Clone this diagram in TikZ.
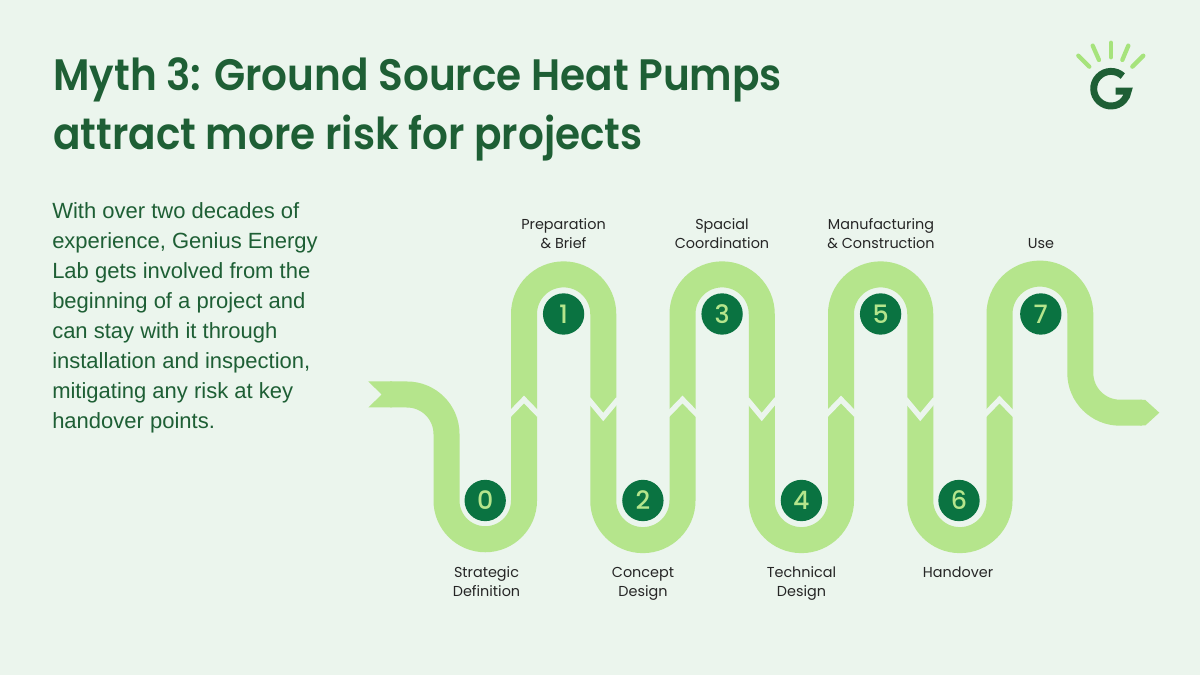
\documentclass[tikz,border=0pt]{standalone}
\usepackage{fontspec}
\setmainfont{Liberation Sans}
\newfontfamily\headfont{Poppins}
\newfontfamily\titlefont[FakeStretch=0.922]{Poppins SemiBold}
\newfontfamily\numfont{Poppins Medium}
\definecolor{pagebg}{HTML}{EBF5ED}
\definecolor{ribbongreen}{HTML}{B5E58C}
\definecolor{stepgreen}{HTML}{0A7341}
\definecolor{deepgreen}{HTML}{1E5F35}
\definecolor{raygreen}{HTML}{A6E37C}
\tikzset{
  ribbon/.style={draw=ribbongreen, line width=19.5pt},
  notch/.style={draw=pagebg, line width=4pt, line cap=butt, miter limit=10},
  stepnum/.style={circle, fill=stepgreen, text=ribbongreen, minimum size=31pt, inner sep=0pt, font=\numfont\fontsize{19}{19}\selectfont},
  steplab/.style={align=center, inner sep=0pt, text=black!85, font=\headfont\fontsize{10.8}{14.2}\selectfont},
  headline/.style={anchor=base west, inner sep=0pt, text=deepgreen, font=\titlefont\fontsize{33}{33}\selectfont},
  logoray/.style={draw=raygreen, line width=3.2pt, line cap=round},
}
\begin{document}
\begin{tikzpicture}[x=0.75pt, y=0.75pt]

    % page
    \fill[pagebg] (0, 0) rectangle (1200, 675);
    \useasboundingbox (0, 0) rectangle (1200, 675);

    % heading and body text
    \node[headline] (title1) at (53, 584) {Myth 3: Ground Source Heat Pumps};
    \node[headline] (title2) at (53, 525) {attract more risk for projects};
    \node[anchor=north west, inner sep=0pt, align=left, text=deepgreen, font=\fontsize{16.5}{22.5}\selectfont] (bodytext) at (52, 473) {With over two decades of\\experience, Genius Energy\\Lab gets involved from the\\beginning of a project and\\can stay with it through\\installation and inspection,\\mitigating any risk at key\\handover points.};

    % winding ribbon with its two ends
    \fill[ribbongreen] (368.3, 293.5) -- (381.7, 280.5) -- (368.3, 267.5) -- (392, 267.5) -- (392, 293.5) -- cycle;
    \fill[ribbongreen] (1140, 275) -- (1145.3, 275) -- (1159.3, 262.3) -- (1145.3, 249.5) -- (1140, 249.5) -- cycle;
    \draw[ribbon] (390, 280.5) -- (407, 280.5) arc (90:0:39.5)
      -- (446.5, 174.5) arc (180:360:38.75)
      -- (524, 361) arc (180:0:39.625)
      -- (603.25, 174.5) arc (180:360:39.625)
      -- (682.5, 361) arc (180:0:39.625)
      -- (761.75, 174.5) arc (180:360:39.625)
      -- (841, 361) arc (180:0:39.625)
      -- (920.25, 174.5) arc (180:360:39.625)
      -- (999.5, 361) arc (180:0:40.4)
      -- (1080.3, 302) arc (180:270:39.7) -- (1142, 262.3);

    % white cuts across the legs
    \foreach \x in {524, 682.5, 841, 999.5} {
      \draw[notch] (\x-15, 260) -- (\x, 275.5) -- (\x+15, 260);
    }
    \foreach \x in {603.25, 761.75, 920.25} {
      \draw[notch] (\x-15, 276) -- (\x, 258) -- (\x+15, 276);
    }

    % numbered steps
    \foreach \n/\x/\y in {0/485.2/174.5, 1/563.6/361, 2/642.9/174.5, 3/722.1/361, 4/801.4/174.5, 5/880.6/361, 6/959/174.5, 7/1040.8/361} {
      \node[stepnum] (step\n) at (\x, \y) {\n};
    }

    % step names
    \node[steplab, anchor=north] (lab0) at (486.5, 108.5) {Strategic\\Definition};
    \node[steplab, anchor=north] (lab1) at (563.5, 456.5) {Preparation\\\& Brief};
    \node[steplab, anchor=north] (lab2) at (643, 107.5) {Concept\\Design};
    \node[steplab, anchor=north] (lab3) at (722, 456.5) {Spacial\\Coordination};
    \node[steplab, anchor=north] (lab4) at (801.5, 108.5) {Technical\\Design};
    \node[steplab, anchor=north] (lab5) at (881, 456.5) {Manufacturing\\\& Construction};
    \node[steplab, anchor=north] (lab6) at (958, 108.5) {Handover};
    \node[steplab, anchor=north] (lab7) at (1041, 437) {Use};

    % logo
    \draw[logoray] (1078.3, 619.3) -- (1089.3, 608.3);
    \draw[logoray] (1092.7, 629.3) -- (1099, 615);
    \draw[logoray] (1111, 632.3) -- (1111, 617.7);
    \draw[logoray] (1128.3, 629.3) -- (1122.3, 615);
    \draw[logoray] (1143.3, 619.3) -- (1132.3, 608.3);
    \draw[deepgreen, line width=5.2pt] (1122.8, 598.95) arc (47:352:17.3) -- (1115.5, 583.9);

\end{tikzpicture}
\end{document}
